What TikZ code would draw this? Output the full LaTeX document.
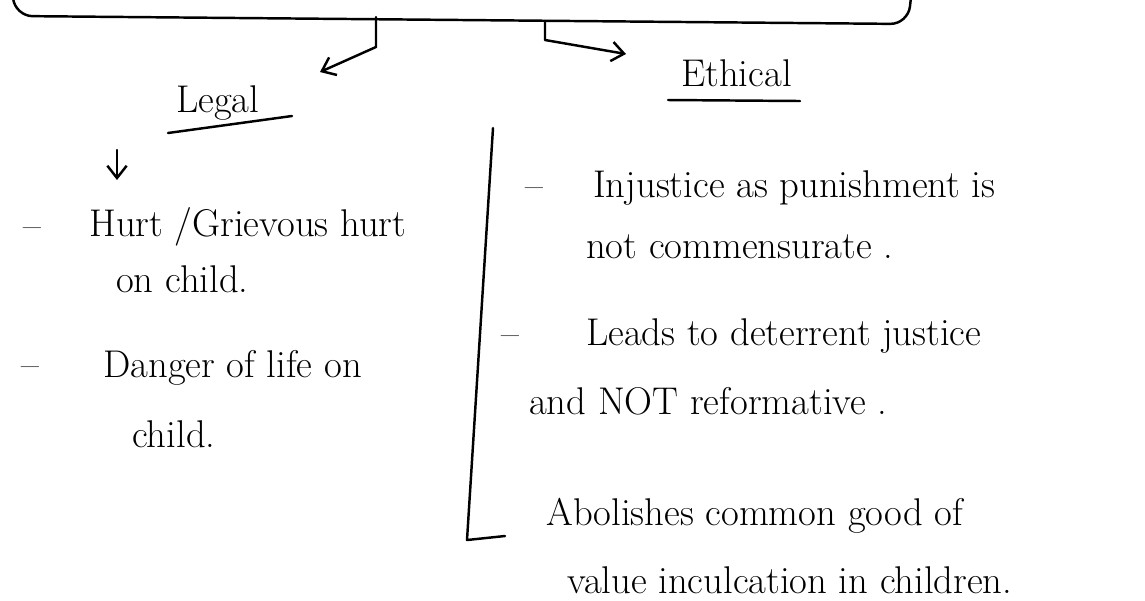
\documentclass[tikz,border=0pt]{standalone}
\usepackage{tikz}
\usetikzlibrary{arrows.meta}

\begin{document}
\begin{tikzpicture}[x=0.02cm, y=-0.02cm, line width=1.4pt,
                    line cap=round, line join=round,
                    every node/.style={inner sep=0pt,
                                       font=\fontsize{22}{26}\selectfont},
                    note/.style={anchor=base west},
                    pointer/.style={-{Straight Barb[length=7pt, width=11pt]}}]
                      \useasboundingbox (0,0) rectangle (1145,600);

                      % bottom edge of the box above
                      \draw[rounded corners=10pt] (12,-12) -- (15,16) -- (908,24) -- (912,-12);

                      \coordinate (lroot) at (376,17);
                      \coordinate (rroot) at (545,21);
                      \coordinate (ltip) at (320,72);
                      \coordinate (rtip) at (626,54);

                      \node[note] (legal) at (175,112) {Legal};
                      \node[note] (ethical) at (680,86) {Ethical};

                      \draw[pointer] (lroot) -- ++(0,30) -- (ltip);
                      \draw[pointer] (rroot) -- ++(0,19) -- (rtip);

                      \draw (168,133) -- (292,116);
                      \draw (668,100) -- (800,101);

                      \coordinate (ldown) at (117,150);
                      \coordinate (ldownend) at (117,180);
                      \draw[pointer] (ldown) -- (ldownend);

                      % legal side
                      \node[note] (d1) at (22,238) {--};
                      \node[note] (hurt) at (88,236) {Hurt /Grievous hurt};
                      \node[note] (hurtb) at (115,292) {on child.};
                      \node[note] (d2) at (20,377) {--};
                      \node[note] (danger) at (102,377) {Danger of life on};
                      \node[note] (dangerb) at (131,447) {child.};

                      % divider
                      \coordinate (dtop) at (493,128);
                      \coordinate (dbot) at (467,540);
                      \coordinate (dtick) at (505,536);
                      \draw (dtop) -- (dbot) -- (dtick);

                      % ethical side
                      \node[note] (d3) at (524,198) {--};
                      \node[note] (unjust) at (592,197) {Injustice as punishment is};
                      \node[note] (unjustb) at (585,258) {not commensurate .};
                      \node[note] (d4) at (500,346) {--};
                      \node[note] (leads) at (585,345) {Leads to deterrent justice};
                      \node[note] (leadsb) at (528,414) {and NOT reformative .};
                      \node[note] (abol) at (545,525) {Abolishes common good of};
                      \node[note] (abolb) at (566,593) {value inculcation in children.};
                  \end{tikzpicture}
\end{document}
